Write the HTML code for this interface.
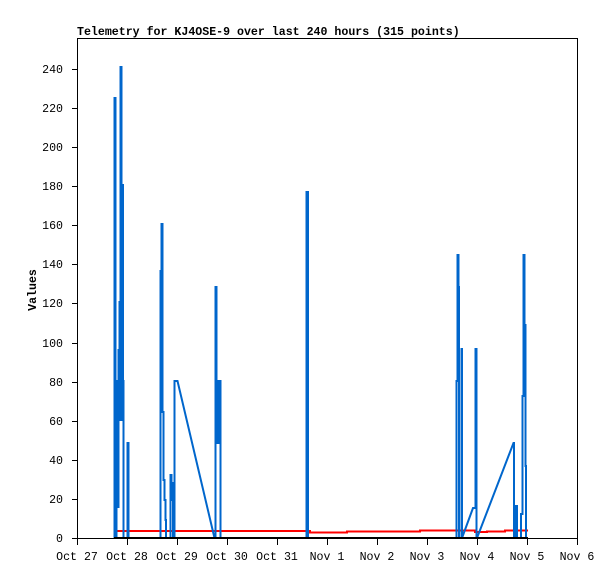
<!DOCTYPE html>
<html><head><style>
body{margin:0;background:#fff;width:615px;height:579px;overflow:hidden}
svg text{font-family:"Liberation Mono",monospace;font-size:11.6px;fill:#000}
</style></head><body>
<svg width="615" height="579" xmlns="http://www.w3.org/2000/svg">
<text x="77" y="35" style="font-weight:bold">Telemetry for KJ4OSE-9 over last 240 hours (315 points)</text>
<rect x="77.5" y="38.5" width="500" height="500" fill="none" stroke="#000"/>
<g stroke="#000">
<line x1="72" y1="538.5" x2="77" y2="538.5"/><line x1="72" y1="499.5" x2="77" y2="499.5"/><line x1="72" y1="460.5" x2="77" y2="460.5"/><line x1="72" y1="421.5" x2="77" y2="421.5"/><line x1="72" y1="382.5" x2="77" y2="382.5"/><line x1="72" y1="343.5" x2="77" y2="343.5"/><line x1="72" y1="303.5" x2="77" y2="303.5"/><line x1="72" y1="264.5" x2="77" y2="264.5"/><line x1="72" y1="225.5" x2="77" y2="225.5"/><line x1="72" y1="186.5" x2="77" y2="186.5"/><line x1="72" y1="147.5" x2="77" y2="147.5"/><line x1="72" y1="108.5" x2="77" y2="108.5"/><line x1="72" y1="69.5" x2="77" y2="69.5"/>
<line x1="77.5" y1="538" x2="77.5" y2="545"/><line x1="127.5" y1="538" x2="127.5" y2="545"/><line x1="177.5" y1="538" x2="177.5" y2="545"/><line x1="227.5" y1="538" x2="227.5" y2="545"/><line x1="277.5" y1="538" x2="277.5" y2="545"/><line x1="327.5" y1="538" x2="327.5" y2="545"/><line x1="377.5" y1="538" x2="377.5" y2="545"/><line x1="427.5" y1="538" x2="427.5" y2="545"/><line x1="477.5" y1="538" x2="477.5" y2="545"/><line x1="527.5" y1="538" x2="527.5" y2="545"/><line x1="577.5" y1="538" x2="577.5" y2="545"/>
</g>
<g text-anchor="end">
<text x="63" y="542">0</text><text x="63" y="503">20</text><text x="63" y="464">40</text><text x="63" y="425">60</text><text x="63" y="386">80</text><text x="63" y="347">100</text><text x="63" y="307">120</text><text x="63" y="268">140</text><text x="63" y="229">160</text><text x="63" y="190">180</text><text x="63" y="151">200</text><text x="63" y="112">220</text><text x="63" y="73">240</text>
</g>
<g text-anchor="middle">
<text x="77" y="560">Oct 27</text><text x="127" y="560">Oct 28</text><text x="177" y="560">Oct 29</text><text x="227" y="560">Oct 30</text><text x="277" y="560">Oct 31</text><text x="327" y="560">Nov 1</text><text x="377" y="560">Nov 2</text><text x="427" y="560">Nov 3</text><text x="477" y="560">Nov 4</text><text x="527" y="560">Nov 5</text><text x="577" y="560">Nov 6</text>
</g>
<text transform="translate(36,290) rotate(-90)" text-anchor="middle" style="font-weight:bold">Values</text>
<polyline fill="none" stroke="#ff0000" stroke-width="2" points="117,531 310,531 310,532.5 347,532.5 347,531.5 420,531.5 420,530.5 475,530.5 475,532 487,532 487,531.5 505,531.5 505,530.5 528,530.5"/>
<polyline fill="none" stroke="#0066cc" stroke-width="2" points="114.5,538 114.5,98 115.5,98 115.5,538 116.5,538 116.5,381 117.5,381 117.5,507 118.5,507 118.5,350 119.5,350 119.5,302 120,302 120,420 120.5,420 120.5,67 121.5,67 121.5,420 122.5,420 122.5,185 123,185 123,381 123.5,381 123.5,538 127.5,538 127.5,443 128.5,443 128.5,490 128.5,538 160.5,538 160.5,271 161.5,271 161.5,224 162.5,224 162.5,412 163.5,412 163.5,480 164.5,480 164.5,500 165.5,500 165.5,520 166,520 166,538 170.5,538 170.5,475 171.5,475 171.5,483 172.5,483 172.5,500 173,500 173,538 174.5,538 174.5,381 177.5,381 214.5,538 215.5,538 215.5,287 216.5,287 216.5,381 217.5,381 217.5,443 218.5,443 218.5,381 220.5,381 220.5,538 306.5,538 306.5,192 308,192 308,538 456.5,538 456.5,381 457.5,381 457.5,255 458.5,255 458.5,287 459,287 459,538 461.5,538 461.5,349 462,349 462,538 473,508 475.5,508 475.5,349 476.5,349 476.5,538 477,538 513.5,443 514,443 514,538 515.5,538 515.5,506 517,506 517,538 521,538 521,514 522.5,514 522.5,396 523.5,396 523.5,255 524.5,255 524.5,325 525.5,325 525.5,466 526,466 526,538"/>
<line x1="114" y1="538" x2="528" y2="538" stroke="#000" stroke-width="2"/>
</svg>
</body></html>
